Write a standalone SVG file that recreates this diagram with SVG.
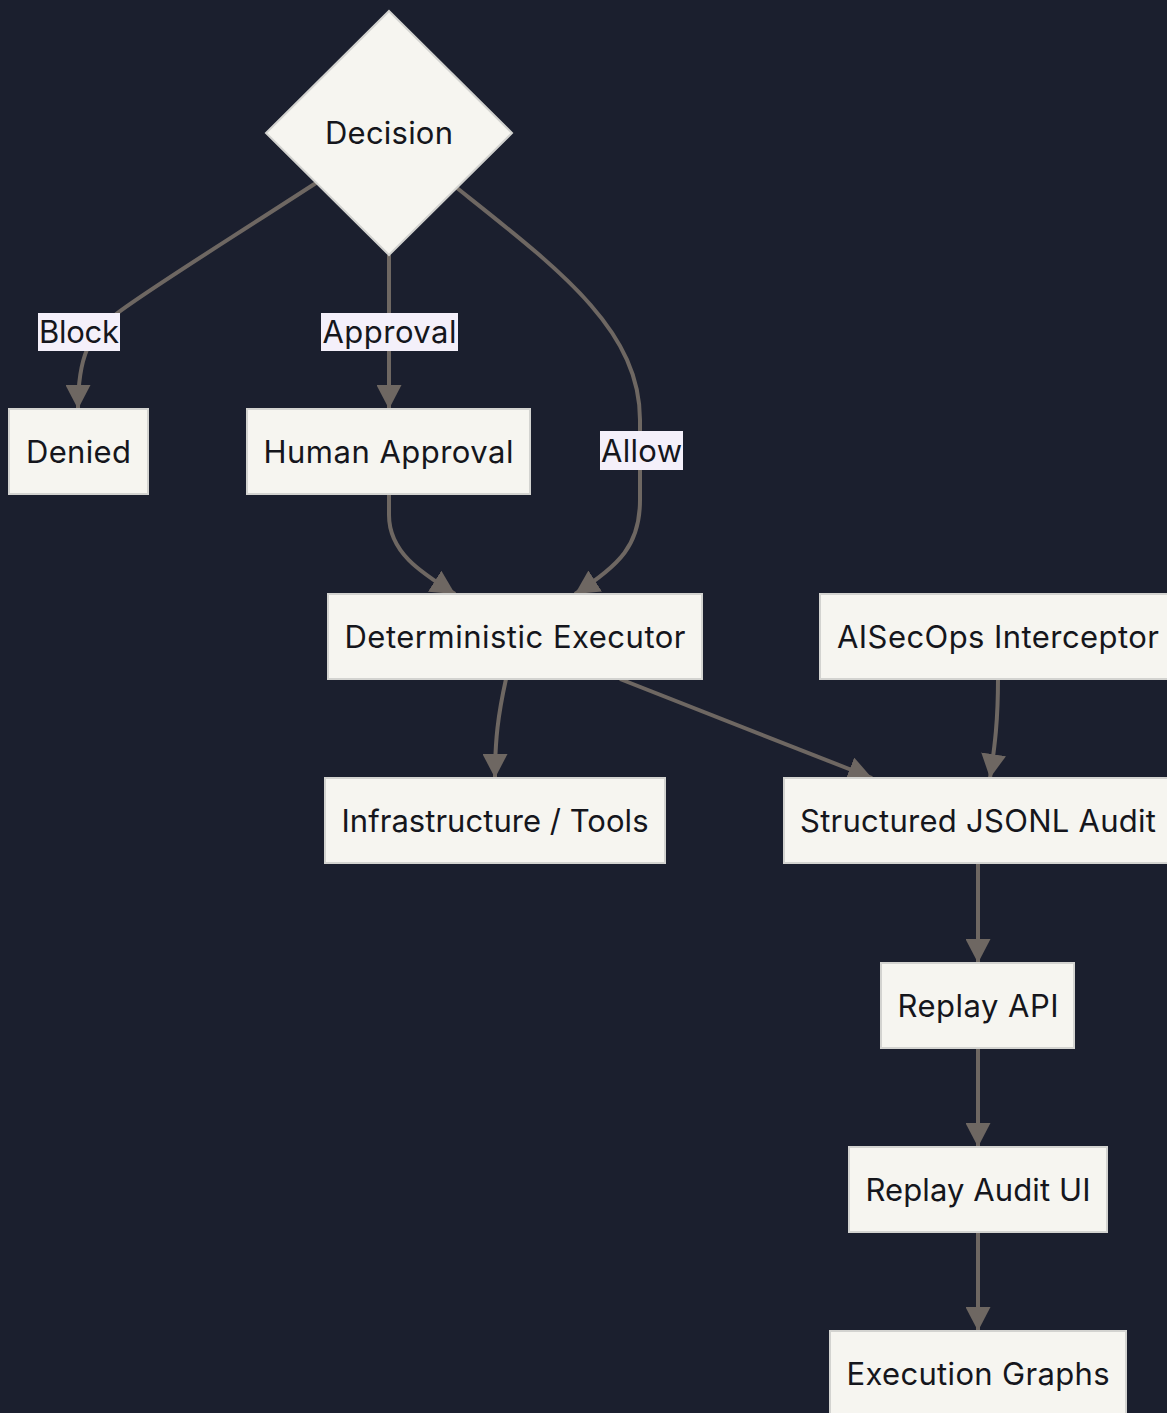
<svg xmlns="http://www.w3.org/2000/svg" width="1167" height="1413" viewBox="0 0 1167 1413">
  <style>
    .node { fill: #f6f5f0; stroke: #d3d3d0; stroke-width: 2; }
    .label { font-family: Inter, "Open Sans", "Liberation Sans", sans-serif; font-size: 31px; fill: #15161c; text-anchor: middle; }
    .edge { fill: none; stroke: #6e6762; stroke-width: 4; }
    .edge-bg { fill: #f4f0fa; }
  </style>
  <defs>
    <marker id="arrow" viewBox="0 0 24 25" markerUnits="userSpaceOnUse" markerWidth="24" markerHeight="25" refX="24" refY="12.5" orient="auto">
      <path d="M0,0 L24,12.5 L0,25 z" fill="#6e6762"/>
    </marker>
  </defs>
  <rect width="1167" height="1413" fill="#1b1f2e"/>

  <g id="connectors">
    <path class="edge" d="M316,183 C200,258 140,295 115,315 C90,335 78,355 78,409" marker-end="url(#arrow)"/>
    <path class="edge" d="M389,255 L389,409" marker-end="url(#arrow)"/>
    <path class="edge" d="M457,188 C560,270 640,330 640,420 L640,500 C640,545 620,565 575,594" marker-end="url(#arrow)"/>
    <path class="edge" d="M389,494 L389,515 C389,552 420,572 455,594" marker-end="url(#arrow)"/>
    <path class="edge" d="M506,679 C498,715 495,740 495,778" marker-end="url(#arrow)"/>
    <path class="edge" d="M620,679 L872,778" marker-end="url(#arrow)"/>
    <path class="edge" d="M998,679 C998,720 995,745 990,778" marker-end="url(#arrow)"/>
    <path class="edge" d="M978,863 L978,963" marker-end="url(#arrow)"/>
    <path class="edge" d="M978,1048 L978,1147" marker-end="url(#arrow)"/>
    <path class="edge" d="M978,1232 L978,1331" marker-end="url(#arrow)"/>

    <g id="edge-labels">
      <rect class="edge-bg" x="38" y="313" width="82" height="38"/>
      <text class="label" x="79" y="343" textLength="80">Block</text>
      <rect class="edge-bg" x="321" y="313" width="137" height="38"/>
      <text class="label" x="389.5" y="343" textLength="134">Approval</text>
      <rect class="edge-bg" x="600" y="431" width="83" height="39"/>
      <text class="label" x="641.5" y="462" textLength="81">Allow</text>
    </g>
  </g>

  <g id="decision">
    <polygon class="node" points="389,11 512,133 389,255 266,133"/>
    <text class="label" x="389" y="144" textLength="128">Decision</text>
  </g>
  <g id="denied">
    <rect class="node" x="9" y="409" width="139" height="85"/>
    <text class="label" x="78.5" y="463" textLength="105">Denied</text>
  </g>
  <g id="human-approval">
    <rect class="node" x="247" y="409" width="283" height="85"/>
    <text class="label" x="388.5" y="463" textLength="250">Human Approval</text>
  </g>
  <g id="deterministic-executor">
    <rect class="node" x="328" y="594" width="374" height="85"/>
    <text class="label" x="515" y="648" textLength="341">Deterministic Executor</text>
  </g>
  <g id="aisecops-interceptor">
    <rect class="node" x="820" y="594" width="352" height="85"/>
    <text class="label" x="998" y="648" textLength="322">AISecOps Interceptor</text>
  </g>
  <g id="infrastructure-tools">
    <rect class="node" x="325" y="778" width="340" height="85"/>
    <text class="label" x="495" y="832" textLength="307">Infrastructure / Tools</text>
  </g>
  <g id="structured-jsonl-audit">
    <rect class="node" x="784" y="778" width="388" height="85"/>
    <text class="label" x="978" y="832" textLength="356">Structured JSONL Audit</text>
  </g>
  <g id="replay-api">
    <rect class="node" x="881" y="963" width="193" height="85"/>
    <text class="label" x="978" y="1017" textLength="161">Replay API</text>
  </g>
  <g id="replay-audit-ui">
    <rect class="node" x="849" y="1147" width="258" height="85"/>
    <text class="label" x="978" y="1201" textLength="225">Replay Audit UI</text>
  </g>
  <g id="execution-graphs">
    <rect class="node" x="830" y="1331" width="296" height="90"/>
    <text class="label" x="978" y="1385" textLength="263">Execution Graphs</text>
  </g>
</svg>
